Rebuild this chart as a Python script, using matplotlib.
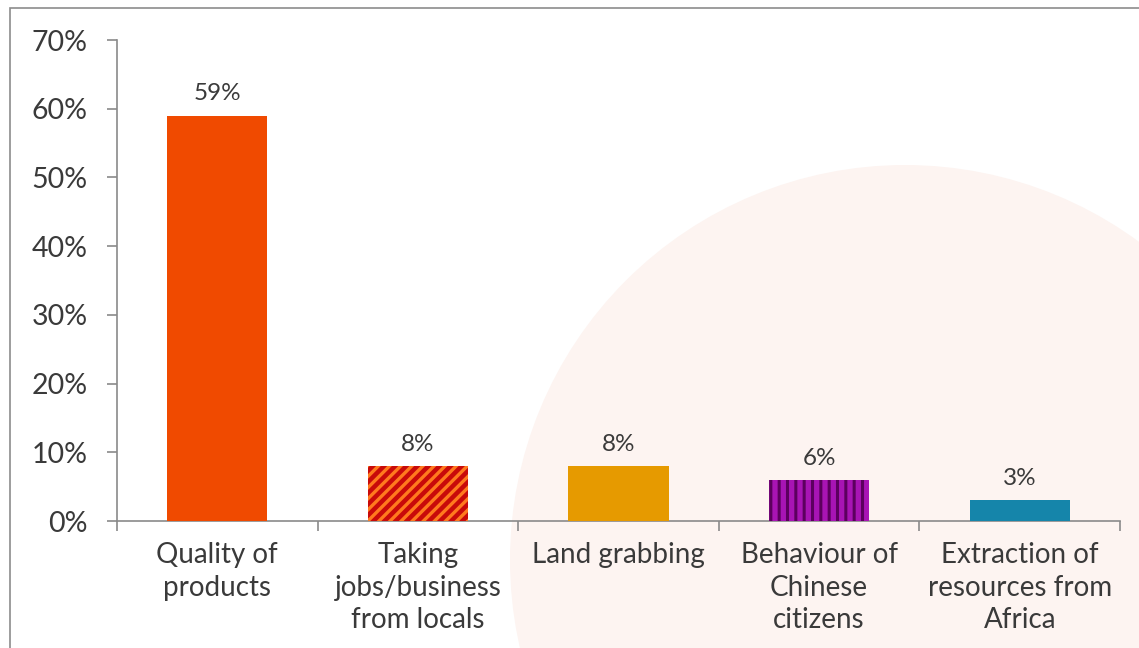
import matplotlib.pyplot as plt
from matplotlib.patches import Rectangle, Ellipse
import numpy as np

categories = ['Quality of\nproducts', 'Taking\njobs/business\nfrom locals', 'Land grabbing',
              'Behaviour of\nChinese\ncitizens', 'Extraction of\nresources from\nAfrica']
values = [59, 8, 8, 6, 3]
face_colors = ['#f04a00', '#c80a0a', '#e69a00', '#a814b4', '#1585aa']
hatch_colors = [None, '#ff7a1e', None, '#5c005e', None]
hatches = [None, '///', None, '||', None]
hatch_widths = [1.0, 2.4, 1.0, 2.2, 1.0]
y_ticks = [0, 10, 20, 30, 40, 50, 60, 70]

plt.rcParams['font.family'] = ['Lato', 'DejaVu Sans']
text_color = '#3a3a3a'
axis_color = '#8a8a8a'

W, H = 1139, 648
fig = plt.figure(figsize=(W / 100, H / 100), dpi=100)

# faint round backdrop behind the plot
r = 395
fig.patches.append(Ellipse((905 / W, 1 - 560 / H), 2 * r / W, 2 * r / H,
                           transform=fig.transFigure, facecolor='#fdf4f1',
                           edgecolor='none', zorder=-2))
# frame around the slide area
fig.patches.append(Rectangle((10 / W, -0.1), 1.2, 1 - 8 / H + 0.1,
                             transform=fig.transFigure, fill=False,
                             edgecolor='#8c8c8c', linewidth=1.2, zorder=-1))

ax = fig.add_axes([117 / W, 1 - 521 / H, 1003 / W, 481 / H])
ax.patch.set_alpha(0)

x = np.arange(len(values))
for i in range(len(values)):
    ax.bar(x[i], values[i], width=0.5, color=face_colors[i],
           edgecolor='none', zorder=3)
    if hatches[i]:
        # stripes laid over the solid bar
        with plt.rc_context({'hatch.linewidth': hatch_widths[i]}):
            ax.bar(x[i], values[i], width=0.5, facecolor='none',
                   edgecolor=hatch_colors[i], hatch=hatches[i], linewidth=0, zorder=4)
    ax.annotate(f'{values[i]}%', (x[i], values[i]), xytext=(0, 8),
                textcoords='offset points', ha='center', va='bottom',
                fontsize=17.5, color=text_color)

ax.set_xlim(-0.5, len(values) - 0.5)
ax.set_ylim(0, 70)
ax.set_yticks(y_ticks)
ax.set_yticklabels([f'{t}%' for t in y_ticks], fontsize=20.5, color=text_color)

ax.set_xticks(x)
ax.set_xticklabels(categories, fontsize=20, color=text_color, linespacing=1.32)
ax.tick_params(axis='x', length=0, pad=15)
ax.set_xticks(np.arange(len(values) + 1) - 0.5, minor=True)
ax.tick_params(axis='x', which='minor', length=7, color=axis_color, width=1.2)
ax.tick_params(axis='y', length=7, color=axis_color, width=1.2, pad=14)

for side in ['top', 'right']:
    ax.spines[side].set_visible(False)
for side in ['left', 'bottom']:
    ax.spines[side].set_color(axis_color)
    ax.spines[side].set_linewidth(1.2)

plt.savefig('out.png', dpi=100)
